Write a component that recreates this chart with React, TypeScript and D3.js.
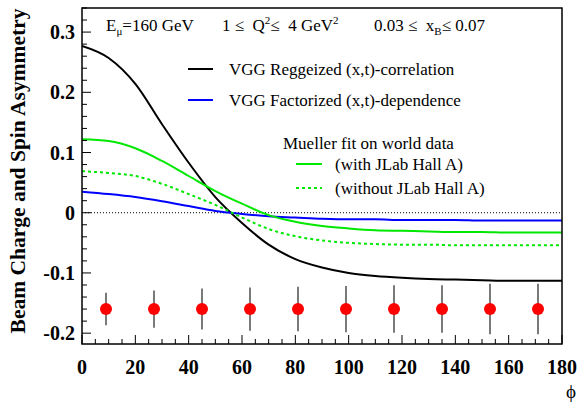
import React from "react";
import * as d3 from "d3";

// phi grid (degrees) on which the model curves are read
const phiGrid = [0, 10, 20, 30, 40, 50, 60, 70, 80, 90, 100, 110, 120, 130, 140, 150, 160, 170, 180];

// VGG Reggeized (x,t)-correlation
const vggReggeized = [0.277, 0.257, 0.214, 0.147, 0.083, 0.026, -0.017, -0.053, -0.077, -0.091, -0.1, -0.105, -0.108, -0.11, -0.111, -0.112, -0.113, -0.113, -0.113];
// VGG Factorized (x,t)-dependence
const vggFactorized = [0.035, 0.031, 0.026, 0.019, 0.011, 0.003, -0.002, -0.006, -0.008, -0.01, -0.011, -0.011, -0.012, -0.012, -0.012, -0.013, -0.013, -0.013, -0.013];
// Mueller fit, with JLab Hall A
const muellerWith = [0.122, 0.119, 0.107, 0.086, 0.061, 0.036, 0.015, -0.004, -0.015, -0.022, -0.026, -0.029, -0.03, -0.031, -0.032, -0.032, -0.033, -0.033, -0.033];
// Mueller fit, without JLab Hall A
const muellerWithout = [0.069, 0.066, 0.061, 0.048, 0.031, 0.013, -0.008, -0.027, -0.039, -0.046, -0.05, -0.052, -0.053, -0.053, -0.054, -0.054, -0.054, -0.054, -0.054];

// projected data points
const binCenters = [9, 27, 45, 63, 81, 99, 117, 135, 153, 171];
const asymValues = [-0.16, -0.16, -0.16, -0.16, -0.16, -0.16, -0.16, -0.16, -0.16, -0.16];
const asymErrors = [0.027, 0.031, 0.034, 0.036, 0.037, 0.0385, 0.0395, 0.0395, 0.042, 0.042];

const xTicks = [0, 20, 40, 60, 80, 100, 120, 140, 160, 180];
const yTicks = [-0.2, -0.1, 0, 0.1, 0.2, 0.3];
const yTickLabels = ["-0.2", "-0.1", "0", "0.1", "0.2", "0.3"];

const W = 580;
const H = 407;
const margin = { top: 8, right: 18, bottom: 63, left: 82 };
const serif = '"Liberation Serif", "Times New Roman", "DejaVu Serif", serif';

export default function App() {
  const x = d3.scaleLinear().domain([0, 180]).range([margin.left, W - margin.right]);
  const y = d3.scaleLinear().domain([-0.218, 0.34]).range([H - margin.bottom, margin.top]);

  const line = d3
    .line<number>()
    .x((_, i) => x(phiGrid[i]))
    .y((d) => y(d))
    .curve(d3.curveMonotoneX);

  const x0 = x(0);
  const x1 = x(180);
  const yTop = y(0.34);
  const yBot = y(-0.218);

  // minor ticks
  const xMinor = d3.range(0, 181, 5);
  const yMinor = d3.range(-0.2, 0.341, 0.02).map((v) => Math.round(v * 100) / 100);

  const green = "#00e800";
  const curves = [
    { data: vggReggeized, color: "#000000", dash: undefined },
    { data: vggFactorized, color: "#0000ff", dash: undefined },
    { data: muellerWith, color: green, dash: undefined },
    { data: muellerWithout, color: green, dash: "3,3" },
  ];

  const txt = { fontFamily: serif, whiteSpace: "pre" as const };

  return (
    <div style={{ position: "absolute", left: 0, top: 0 }}>
      <svg width={W} height={H} style={{ display: "block", background: "#fff", fontFamily: serif }}>
        <defs>
          <clipPath id="plotArea">
            <rect x={x0} y={yTop} width={x1 - x0} height={yBot - yTop} />
          </clipPath>
        </defs>

        {/* zero line */}
        <line x1={x0} x2={x1} y1={y(0)} y2={y(0)} stroke="#000" strokeWidth={1} strokeDasharray="1,2" />

        {/* model curves */}
        <g clipPath="url(#plotArea)">
          {curves.map((c, i) => (
            <path
              key={i}
              d={line(c.data) || ""}
              fill="none"
              stroke={c.color}
              strokeWidth={2}
              strokeDasharray={c.dash}
            />
          ))}
        </g>

        {/* data points with error bars */}
        {binCenters.map((b, i) => (
          <g key={b}>
            <line
              x1={x(b)}
              x2={x(b)}
              y1={y(asymValues[i] + asymErrors[i])}
              y2={y(asymValues[i] - asymErrors[i])}
              stroke="#333"
              strokeWidth={1.3}
            />
            <circle cx={x(b)} cy={y(asymValues[i])} r={6} fill="#ff0000" />
          </g>
        ))}

        {/* frame */}
        <rect x={x0} y={yTop} width={x1 - x0} height={yBot - yTop} fill="none" stroke="#000" strokeWidth={1.5} />

        {/* x ticks */}
        {xMinor.map((t) => (
          <line
            key={"xm" + t}
            x1={x(t)}
            x2={x(t)}
            y1={yBot}
            y2={yBot - (t % 20 === 0 ? 9 : 5)}
            stroke="#000"
            strokeWidth={1}
          />
        ))}
        {xTicks.map((t) => (
          <text key={"xl" + t} style={txt} x={x(t)} y={374} textAnchor="middle" fontSize={20} fontWeight="bold">
            {t}
          </text>
        ))}

        {/* y ticks */}
        {yMinor.map((t) => (
          <line
            key={"ym" + t}
            x1={x0}
            x2={x0 + (Math.abs(Math.round(t * 100)) % 10 === 0 ? 9 : 5)}
            y1={y(t)}
            y2={y(t)}
            stroke="#000"
            strokeWidth={1}
          />
        ))}
        {yTicks.map((t, i) => (
          <text key={"yl" + t} style={txt} x={75} y={y(t)} dy="0.35em" textAnchor="end" fontSize={20} fontWeight="bold">
            {yTickLabels[i]}
          </text>
        ))}

        {/* axis titles */}
        <text style={txt} x={571} y={398} textAnchor="middle" fontSize={19}>
          ϕ
        </text>
        <text
          style={txt}
          transform={`translate(25, 171) rotate(-90)`}
          textAnchor="middle"
          fontSize={21.5}
          fontWeight="bold"
        >
          Beam Charge and Spin Asymmetry
        </text>

        {/* header */}
        <text style={txt} x={106} y={31} fontSize={17}>
          E<tspan fontSize={11} dy={4}>μ</tspan>
          <tspan dy={-4}>=160 GeV</tspan>
        </text>
        <text style={txt} x={222} y={31} fontSize={17}>
          {"1 ≤  Q"}
          <tspan fontSize={11} dy={-7}>2</tspan>
          <tspan dy={7}>{"≤  4 GeV"}</tspan>
          <tspan fontSize={11} dy={-7}>2</tspan>
        </text>
        <text style={txt} x={374} y={31} fontSize={17}>
          {"0.03 ≤  x"}
          <tspan fontSize={11} dy={4}>B</tspan>
          <tspan dy={-4}>{"≤ 0.07"}</tspan>
        </text>

        {/* legend */}
        <line x1={188} x2={213} y1={69} y2={69} stroke="#000" strokeWidth={2} />
        <text style={txt} x={229} y={69} dy="0.35em" fontSize={17}>
          VGG Reggeized (x,t)-correlation
        </text>
        <line x1={188} x2={213} y1={100} y2={100} stroke="#0000ff" strokeWidth={2} />
        <text style={txt} x={229} y={100} dy="0.35em" fontSize={17}>
          VGG Factorized (x,t)-dependence
        </text>
        <text style={txt} x={283} y={143} dy="0.35em" fontSize={17}>
          Mueller fit on world data
        </text>
        <line x1={296} x2={322} y1={164} y2={164} stroke={green} strokeWidth={2} />
        <text style={txt} x={335} y={164} dy="0.35em" fontSize={17}>
          (with JLab Hall A)
        </text>
        <line x1={296} x2={322} y1={188} y2={188} stroke={green} strokeWidth={2} strokeDasharray="3,3" />
        <text style={txt} x={335} y={188} dy="0.35em" fontSize={17}>
          (without JLab Hall A)
        </text>
      </svg>
    </div>
  );
}
